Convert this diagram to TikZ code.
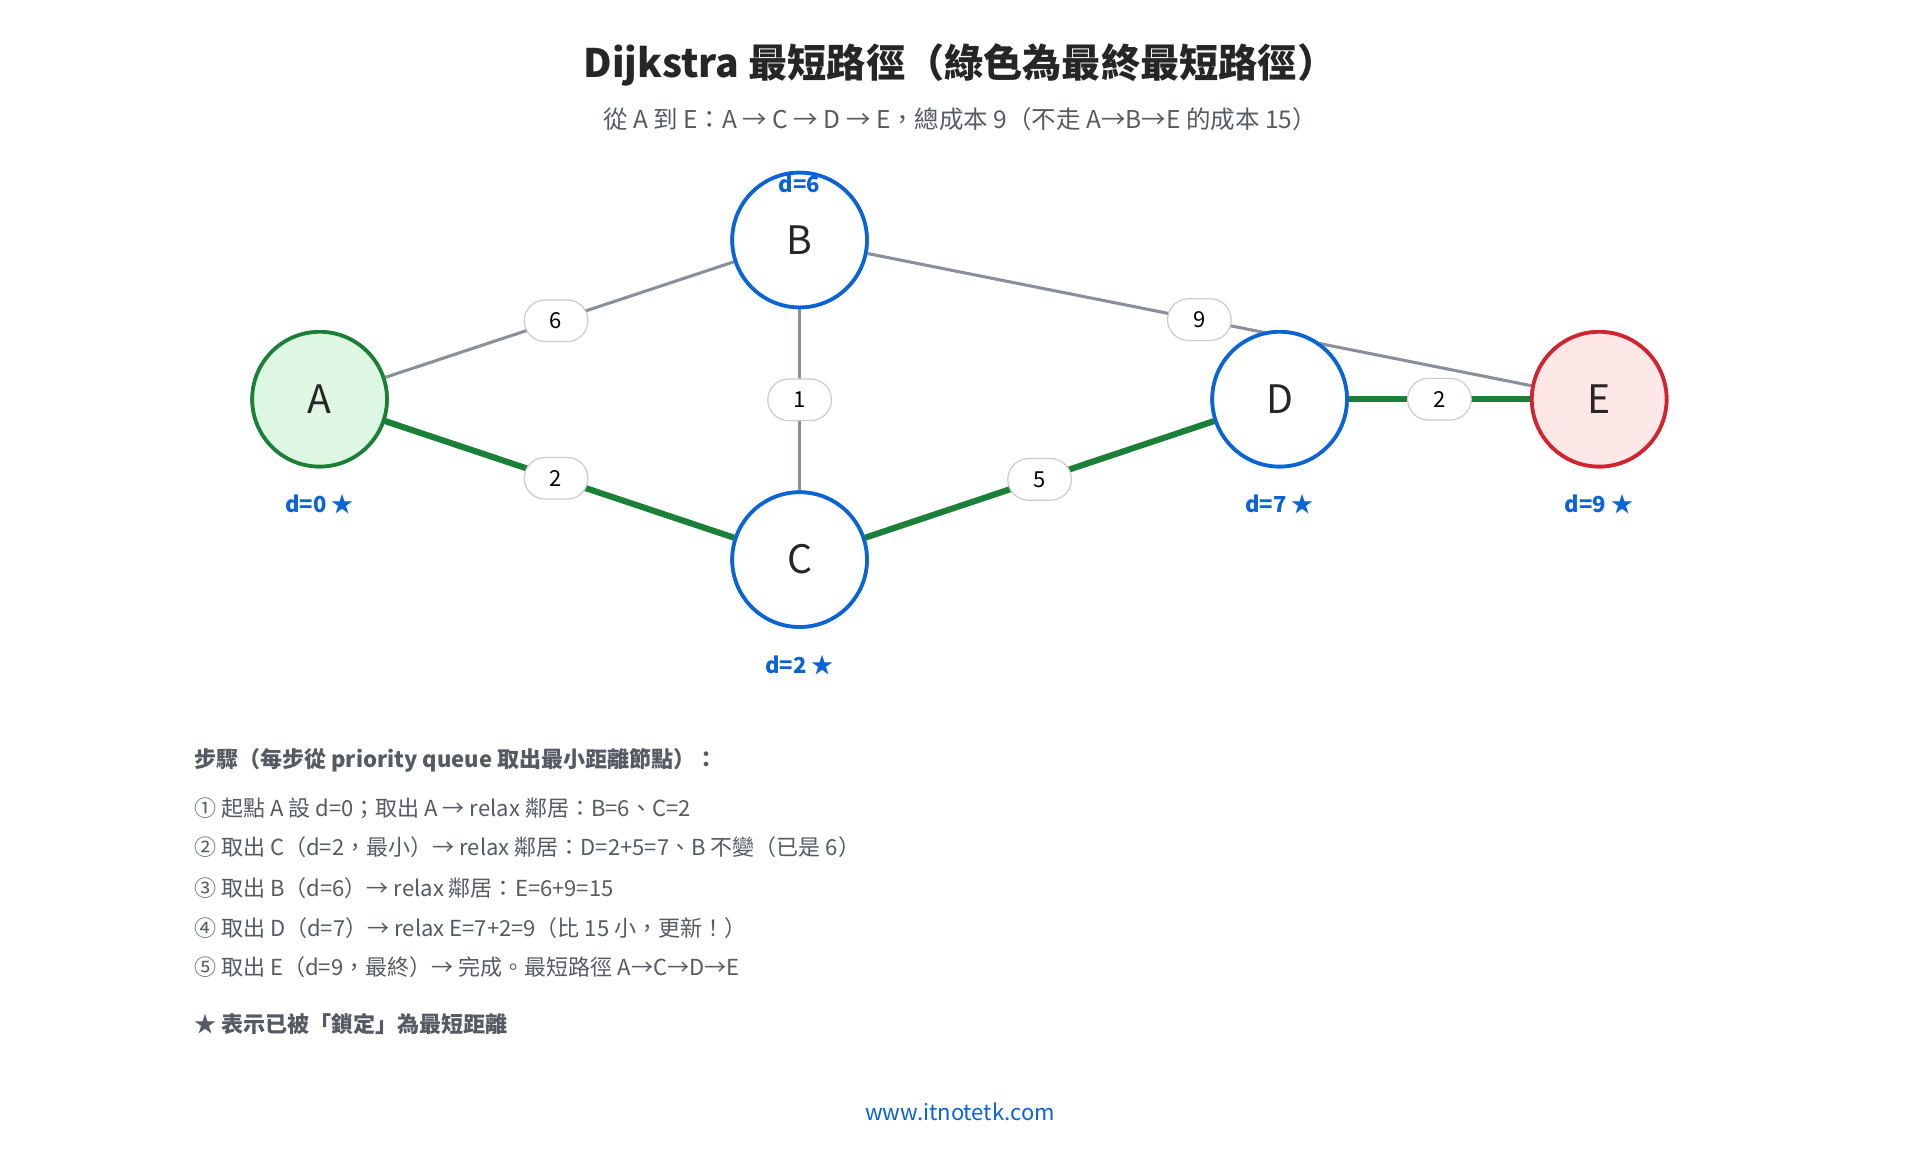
\documentclass[tikz,border=0pt]{standalone}
\usepackage{fontspec}
\setmainfont{Noto Sans CJK TC}
\usetikzlibrary{positioning}
\definecolor{pathgreen}{HTML}{1A7F37}
\definecolor{nodeblue}{HTML}{0B63D8}
\definecolor{edgegray}{HTML}{8A9099}
\definecolor{txtgray}{HTML}{555B63}
\definecolor{startfill}{HTML}{DDF7E2}
\definecolor{endfill}{HTML}{FDE7E7}
\definecolor{endred}{HTML}{D1242F}
\tikzset{
  vertex/.style={circle,draw=nodeblue,line width=3pt,fill=white,minimum size=110pt,
    font=\fontsize{32}{36}\selectfont,text=black!85},
  weight/.style={rounded corners=17pt,draw=black!20,line width=1pt,fill=white,
    minimum width=52pt,minimum height=34pt,font=\fontsize{18}{20}\selectfont},
  plain/.style={draw=edgegray,line width=2.5pt},
  best/.style={draw=pathgreen,line width=5pt},
  dist/.style={text=nodeblue,font=\fontsize{18}{20}\selectfont\bfseries},
  stepline/.style={anchor=west,text=txtgray,font=\fontsize{18}{20}\selectfont}
}
\begin{document}
\begin{tikzpicture}[x=1pt,y=-1pt]
\useasboundingbox[fill=white] (0,0) rectangle (1568,940);

% title
\node[font=\fontsize{32}{36}\selectfont\bfseries,text=black!85] (title) at (784,53)
  {Dijkstra 最短路徑（綠色為最終最短路徑）};
\node[font=\fontsize{20}{24}\selectfont,text=txtgray] (subtitle) at (784,97)
  {從 A 到 E：A → C → D → E，總成本 9（不走 A→B→E 的成本 15）};

% graph
\node[vertex,draw=pathgreen,fill=startfill] (A) at (261,326) {A};
\node[vertex] (B) at (653,196) {B};
\node[vertex] (C) at (653,457) {C};
\node[vertex] (D) at (1045,326) {D};
\node[vertex,draw=endred,fill=endfill] (E) at (1306,326) {E};

\begin{scope}[on background layer/.style={}]
\end{scope}
\draw[plain] (A) -- (B) node[weight,pos=0.49] (wab) {6};
\draw[plain] (B) -- (C) node[weight,pos=0.5] (wbc) {1};
\draw[plain] (B) -- (E) node[weight,pos=0.5] (wbe) {9};
\draw[best] (A) -- (C) node[weight,pos=0.49] (wac) {2};
\draw[best] (C) -- (D) node[weight,pos=0.5] (wcd) {5};
\draw[best] (D) -- (E) node[weight,pos=0.5] (wde) {2};

% redraw nodes above the edges
\node[vertex,draw=pathgreen,fill=startfill] at (A) {A};
\node[vertex] at (B) {B};
\node[vertex] at (C) {C};
\node[vertex] at (D) {D};
\node[vertex,draw=endred,fill=endfill] at (E) {E};

\node[dist] (dA) at (261,412) {d=0 ★};
\node[dist] (dB) at (653,150) {d=6};
\node[dist] (dC) at (653,543) {d=2 ★};
\node[dist] (dD) at (1045,412) {d=7 ★};
\node[dist] (dE) at (1306,412) {d=9 ★};

% steps
\node[stepline,font=\fontsize{18}{20}\selectfont\bfseries] (s0) at (155,621)
  {步驟（每步從 priority queue 取出最小距離節點）：};
\node[stepline] (s1) at (155,660) {① 起點 A 設 d=0；取出 A → relax 鄰居：B=6、C=2};
\node[stepline] (s2) at (155,692) {② 取出 C（d=2，最小）→ relax 鄰居：D=2+5=7、B 不變（已是 6）};
\node[stepline] (s3) at (155,725) {③ 取出 B（d=6）→ relax 鄰居：E=6+9=15};
\node[stepline] (s4) at (155,758) {④ 取出 D（d=7）→ relax E=7+2=9（比 15 小，更新！）};
\node[stepline] (s5) at (155,790) {⑤ 取出 E（d=9，最終）→ 完成。最短路徑 A→C→D→E};
\node[stepline,font=\fontsize{18}{20}\selectfont\bfseries] (s6) at (155,836)
  {★ 表示已被「鎖定」為最短距離};

\node[text=nodeblue,font=\fontsize{18}{20}\selectfont] (url) at (784,908) {www.itnotetk.com};
\end{tikzpicture}
\end{document}
